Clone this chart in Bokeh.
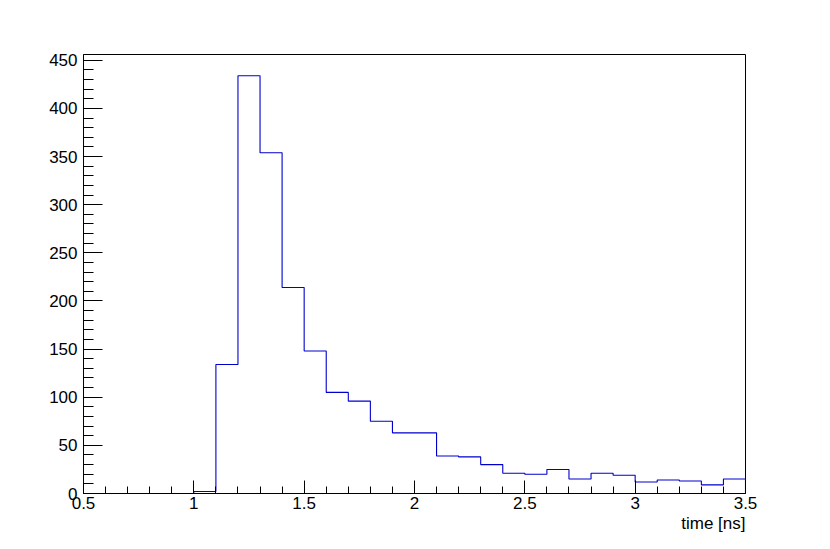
import numpy as np
from bokeh.plotting import figure
from bokeh.models import Range1d, FixedTicker, Title
from bokeh.embed import file_html
from bokeh.resources import INLINE

# Histogram data: 30 bins from 0.5 to 3.5 ns
bin_edges = [round(0.5 + 0.1 * i, 1) for i in range(31)]
counts = [0, 0, 0, 0, 0, 2, 134, 434, 354, 214,
          148, 105, 96, 75, 63, 63, 39, 38, 30, 21,
          20, 25, 15, 21, 19, 12, 14, 13, 9, 15]
x_ticks = [0.5, 1, 1.5, 2, 2.5, 3, 3.5]
y_ticks = [0, 50, 100, 150, 200, 250, 300, 350, 400, 450]
x_label = "time [ns]"

FONT = "Liberation Sans"

p = figure(width=822, height=541, output_backend="svg", toolbar_location=None,
           x_range=Range1d(0.5, 3.5), y_range=Range1d(0, 456),
           min_border_left=83, min_border_right=77, min_border_top=54, min_border_bottom=48)

p.background_fill_color = "white"
p.border_fill_color = "white"
p.outline_line_color = "black"
p.outline_line_width = 1
p.xgrid.visible = False
p.ygrid.visible = False

# step outline
xs = np.repeat(bin_edges, 2)
ys = np.concatenate([[0], np.repeat(counts, 2), [0]])
p.line(xs, ys, line_color="#0000cc", line_width=1.1)

xminor = [round(0.5 + 0.1 * i, 1) for i in range(31)]
yminor = list(range(0, 460, 10))
p.xaxis.ticker = FixedTicker(ticks=x_ticks, minor_ticks=xminor)
p.yaxis.ticker = FixedTicker(ticks=y_ticks, minor_ticks=yminor)
p.xaxis.major_label_overrides = {0.5: "0.5", 1: "1", 1.5: "1.5", 2: "2", 2.5: "2.5", 3: "3", 3.5: "3.5"}

for ax in (p.xaxis[0], p.yaxis[0]):
    ax.major_tick_out = 0
    ax.minor_tick_out = 0
    ax.axis_line_color = "black"
    ax.major_tick_line_color = "black"
    ax.minor_tick_line_color = "black"
    ax.major_label_text_font = FONT
    ax.major_label_text_font_size = "17px"
    ax.major_label_text_color = "black"

p.xaxis.major_tick_in = 13
p.xaxis.minor_tick_in = 7
p.yaxis.major_tick_in = 19
p.yaxis.minor_tick_in = 10
p.xaxis.major_label_standoff = 3
p.yaxis.major_label_standoff = 6

t = Title(text=x_label, align="right", text_font=FONT, text_font_size="17px",
          text_font_style="normal", text_color="black", standoff=0, offset=0)
p.add_layout(t, "below")

open("out.html", "w").write(file_html(p, INLINE))
